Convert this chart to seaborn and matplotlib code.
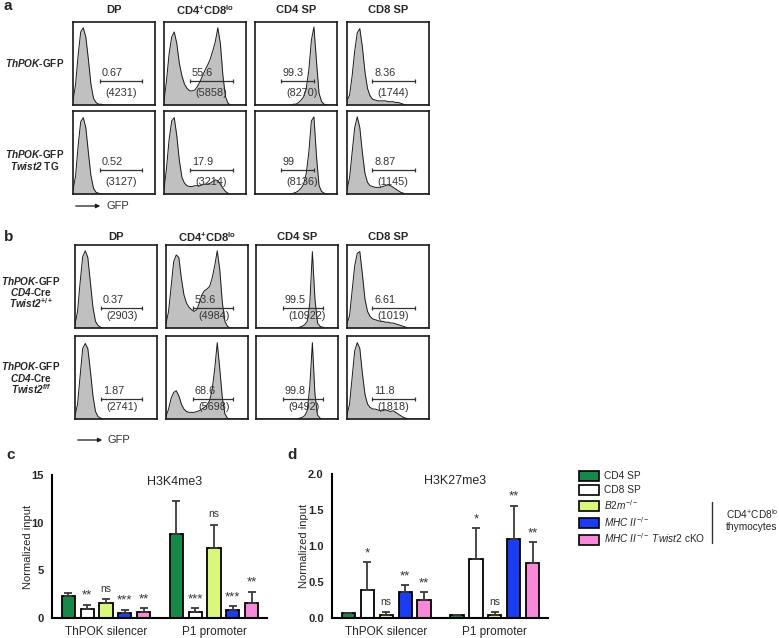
import numpy as np
import pandas as pd
import matplotlib
matplotlib.use("Agg")
import matplotlib.pyplot as plt
from matplotlib.patches import Patch, FancyArrowPatch
from matplotlib.lines import Line2D
import seaborn as sb

sb.set_style("white")
plt.rcParams["font.family"] = ["Liberation Sans", "DejaVu Sans"]
plt.rcParams["mathtext.fontset"] = "custom"
plt.rcParams["mathtext.rm"] = "Liberation Sans"
plt.rcParams["mathtext.sf"] = "Liberation Sans"
plt.rcParams["mathtext.it"] = "Liberation Sans:italic"
plt.rcParams["mathtext.bf"] = "Liberation Sans:bold"
plt.rcParams["mathtext.bfit"] = "Liberation Sans:italic:bold"

# ---- flow histograms (GFP, relative counts on a 33-channel grid) ----
A1_DP = [0.05, 0.25, 0.60, 0.88, 0.93, 0.82, 0.55, 0.25, 0.08, 0.03, 0.01,
         0.01, 0.00, 0.00, 0.00, 0.00, 0.00, 0.00, 0.00, 0.00, 0.00, 0.00,
         0.00, 0.00, 0.00, 0.00, 0.00, 0.00, 0.00, 0.00, 0.00, 0.00, 0.00]
A1_LO = [0.05, 0.30, 0.62, 0.82, 0.88, 0.74, 0.50, 0.35, 0.25, 0.20, 0.17,
         0.17, 0.18, 0.22, 0.28, 0.35, 0.42, 0.48, 0.55, 0.65, 0.76, 0.93,
         0.74, 0.35, 0.10, 0.02, 0.00, 0.00, 0.00, 0.00, 0.00, 0.00, 0.00]
A1_CD4 = [0.00, 0.00, 0.00, 0.00, 0.00, 0.00, 0.00, 0.00, 0.00, 0.00, 0.00,
          0.00, 0.00, 0.00, 0.00, 0.01, 0.01, 0.03, 0.06, 0.10, 0.20, 0.42,
          0.78, 0.94, 0.52, 0.14, 0.04, 0.01, 0.00, 0.00, 0.00, 0.00, 0.00]
A1_CD8 = [0.05, 0.12, 0.35, 0.65, 0.87, 0.92, 0.70, 0.40, 0.20, 0.11, 0.07,
          0.06, 0.05, 0.05, 0.05, 0.05, 0.04, 0.04, 0.04, 0.03, 0.03, 0.02,
          0.01, 0.00, 0.00, 0.00, 0.00, 0.00, 0.00, 0.00, 0.00, 0.00, 0.00]

A2_DP = [0.04, 0.22, 0.58, 0.87, 0.92, 0.80, 0.50, 0.22, 0.07, 0.02, 0.01,
         0.00, 0.00, 0.00, 0.00, 0.00, 0.00, 0.00, 0.00, 0.00, 0.00, 0.00,
         0.00, 0.00, 0.00, 0.00, 0.00, 0.00, 0.00, 0.00, 0.00, 0.00, 0.00]
A2_LO = [0.05, 0.32, 0.66, 0.88, 0.92, 0.70, 0.40, 0.20, 0.13, 0.10, 0.09,
         0.09, 0.10, 0.10, 0.10, 0.11, 0.12, 0.12, 0.13, 0.15, 0.17, 0.16,
         0.12, 0.07, 0.03, 0.01, 0.00, 0.00, 0.00, 0.00, 0.00, 0.00, 0.00]
A2_CD4 = [0.00, 0.00, 0.00, 0.00, 0.00, 0.00, 0.00, 0.00, 0.00, 0.00, 0.00,
          0.00, 0.00, 0.00, 0.00, 0.01, 0.02, 0.04, 0.07, 0.12, 0.25, 0.50,
          0.88, 0.93, 0.45, 0.10, 0.03, 0.01, 0.00, 0.00, 0.00, 0.00, 0.00]
A2_CD8 = [0.05, 0.20, 0.50, 0.80, 0.93, 0.80, 0.50, 0.25, 0.14, 0.10, 0.09,
          0.08, 0.08, 0.08, 0.09, 0.10, 0.11, 0.10, 0.08, 0.06, 0.04, 0.02,
          0.01, 0.00, 0.00, 0.00, 0.00, 0.00, 0.00, 0.00, 0.00, 0.00, 0.00]

B1_DP = [0.04, 0.20, 0.55, 0.86, 0.93, 0.85, 0.55, 0.25, 0.08, 0.03, 0.01,
         0.00, 0.00, 0.00, 0.00, 0.00, 0.00, 0.00, 0.00, 0.00, 0.00, 0.00,
         0.00, 0.00, 0.00, 0.00, 0.00, 0.00, 0.00, 0.00, 0.00, 0.00, 0.00]
B1_LO = [0.05, 0.20, 0.50, 0.80, 0.88, 0.85, 0.60, 0.40, 0.30, 0.25, 0.22,
         0.20, 0.22, 0.30, 0.40, 0.45, 0.47, 0.50, 0.60, 0.75, 0.93, 0.70,
         0.30, 0.08, 0.02, 0.00, 0.00, 0.00, 0.00, 0.00, 0.00, 0.00, 0.00]
B1_CD4 = [0.00, 0.00, 0.00, 0.00, 0.00, 0.00, 0.00, 0.00, 0.00, 0.00, 0.00,
          0.00, 0.00, 0.00, 0.00, 0.00, 0.00, 0.01, 0.02, 0.04, 0.08, 0.30,
          0.92, 0.35, 0.06, 0.02, 0.01, 0.00, 0.00, 0.00, 0.00, 0.00, 0.00]
B1_CD8 = [0.05, 0.15, 0.45, 0.75, 0.90, 0.92, 0.65, 0.35, 0.20, 0.14, 0.11,
          0.10, 0.09, 0.08, 0.08, 0.07, 0.07, 0.06, 0.06, 0.05, 0.04, 0.03,
          0.02, 0.01, 0.00, 0.00, 0.00, 0.00, 0.00, 0.00, 0.00, 0.00, 0.00]

B2_DP = [0.04, 0.18, 0.52, 0.85, 0.91, 0.85, 0.58, 0.28, 0.09, 0.03, 0.01,
         0.00, 0.00, 0.00, 0.00, 0.00, 0.00, 0.00, 0.00, 0.00, 0.00, 0.00,
         0.00, 0.00, 0.00, 0.00, 0.00, 0.00, 0.00, 0.00, 0.00, 0.00, 0.00]
B2_LO = [0.03, 0.12, 0.25, 0.32, 0.34, 0.28, 0.18, 0.12, 0.09, 0.08, 0.08,
         0.08, 0.09, 0.10, 0.12, 0.14, 0.17, 0.22, 0.35, 0.60, 0.92, 0.60,
         0.25, 0.06, 0.01, 0.00, 0.00, 0.00, 0.00, 0.00, 0.00, 0.00, 0.00]
B2_CD4 = [0.00, 0.00, 0.00, 0.00, 0.00, 0.00, 0.00, 0.00, 0.00, 0.00, 0.00,
          0.00, 0.00, 0.00, 0.00, 0.00, 0.00, 0.01, 0.02, 0.04, 0.10, 0.40,
          0.92, 0.30, 0.05, 0.01, 0.00, 0.00, 0.00, 0.00, 0.00, 0.00, 0.00]
B2_CD8 = [0.05, 0.18, 0.50, 0.82, 0.92, 0.85, 0.55, 0.30, 0.18, 0.14, 0.12,
          0.12, 0.11, 0.10, 0.10, 0.11, 0.10, 0.09, 0.10, 0.08, 0.06, 0.04,
          0.02, 0.01, 0.00, 0.00, 0.00, 0.00, 0.00, 0.00, 0.00, 0.00, 0.00]

# gate percentages and event counts
a1_pct = ["0.67", "55.6", "99.3", "8.36"]
a1_cnt = ["(4231)", "(5858)", "(8270)", "(1744)"]
a2_pct = ["0.52", "17.9", "99", "8.87"]
a2_cnt = ["(3127)", "(3214)", "(8136)", "(1145)"]
b1_pct = ["0.37", "53.6", "99.5", "6.61"]
b1_cnt = ["(2903)", "(4984)", "(10922)", "(1019)"]
b2_pct = ["1.87", "68.6", "99.8", "11.8"]
b2_cnt = ["(2741)", "(5698)", "(9492)", "(1818)"]

col_titles = ["DP", r"$\mathbf{CD4^{+}CD8^{lo}}$", "CD4 SP", "CD8 SP"]
a_rows = [[r"$\mathbfit{ThPOK}$-GFP"],
          [r"$\mathbfit{ThPOK}$-GFP", r"$\mathbfit{Twist2}$ TG"]]
b_rows = [[r"$\mathbfit{ThPOK}$-GFP", r"$\mathbfit{CD4}$-Cre", r"$\mathbfit{Twist2}^{\mathbf{+/+}}$"],
          [r"$\mathbfit{ThPOK}$-GFP", r"$\mathbfit{CD4}$-Cre", r"$\mathbfit{Twist2}^{\mathbfit{f/f}}$"]]

# ---- ChIP-qPCR ----
regions = ["ThPOK silencer", "P1 promoter"]
cell_types = ["CD4 SP", "CD8 SP", "B2m-/-", "MHC II-/-", "MHC II-/- Twist2 cKO"]
legend_labels = ["CD4 SP", "CD8 SP", r"$\mathit{B2m}^{-/-}$", r"$\mathit{MHC\ II}^{-/-}$",
                 r"$\mathit{MHC\ II}^{-/-}\ \mathit{Twist2}$ cKO"]
bar_colors = ["#16884a", "#ffffff", "#d9f77c", "#1a3cf2", "#f78ad8"]

k4_silencer = [2.31, 0.91, 1.61, 0.52, 0.63]
k4_silencer_err = [0.31, 0.49, 0.35, 0.35, 0.42]
k4_silencer_sig = ["", "**", "ns", "***", "**"]
k4_promoter = [8.82, 0.59, 7.32, 0.80, 1.61]
k4_promoter_err = [3.46, 0.46, 2.45, 0.46, 1.15]
k4_promoter_sig = ["", "***", "ns", "***", "**"]

k27_silencer = [0.065, 0.39, 0.046, 0.366, 0.255]
k27_silencer_err = [0.005, 0.39, 0.034, 0.094, 0.10]
k27_silencer_sig = ["", "*", "ns", "**", "**"]
k27_promoter = [0.037, 0.82, 0.046, 1.10, 0.76]
k27_promoter_err = [0.005, 0.425, 0.034, 0.46, 0.29]
k27_promoter_sig = ["", "*", "ns", "**", "**"]

W, H = 779, 638
fig = plt.figure(figsize=(W / 100, H / 100), dpi=100)


def px_axes(left, top, width, height):
    return fig.add_axes([left / W, 1 - (top + height) / H, width / W, height / H])


def ftext(x, y, s, **kw):
    fig.text(x / W, 1 - y / H, s, **kw)


def draw_hist(ax, heights, pct, cnt, gate, gate_y):
    chan = np.arange(len(heights))
    ax.fill_between(chan, heights, color="#c0c0c0", lw=0)
    ax.plot(chan, heights, color="#1a1a1a", lw=0.7)
    ax.set_xlim(0, len(heights) - 1)
    ax.set_ylim(0, 1)
    ax.set_xticks([])
    ax.set_yticks([])
    for s in ax.spines.values():
        s.set_visible(True)
        s.set_linewidth(1.2)
        s.set_color("#1a1a1a")
    x0, x1 = gate
    ax.plot([x0, x1], [gate_y, gate_y], transform=ax.transAxes, color="#333333",
            lw=0.9, marker="|", ms=3, mew=0.9)
    ax.text(x0 + 0.02, gate_y + 0.1, pct, transform=ax.transAxes, fontsize=7.8,
            color="#333333", va="center", ha="left")
    ax.text(x0 + 0.06, 0.145, cnt, transform=ax.transAxes, fontsize=7.8,
            color="#333333", va="center", ha="left")


def flow_panel(letter, letter_y, title_y, lefts, tops, hists, pcts, cnts, row_labels,
               label_x, label_y, gates, gate_y, arrow_y):
    ftext(4, letter_y, letter, fontsize=11, fontweight="bold", va="center")
    for c, l in enumerate(lefts):
        ftext(l + 41, title_y, col_titles[c], fontsize=8, fontweight="bold",
              ha="center", va="center")
    for r, t in enumerate(tops):
        for c, l in enumerate(lefts):
            ax = px_axes(l, t, 82, 83)
            draw_hist(ax, hists[r][c], pcts[r][c], cnts[r][c], gates[c], gate_y)
        lines = row_labels[r]
        n = len(lines)
        for k, s in enumerate(lines):
            ftext(label_x, label_y[r] + (k - (n - 1) / 2) * 11.5, s, fontsize=7.2,
                  fontweight="bold", ha="center", va="center")
    fig.add_artist(FancyArrowPatch((lefts[0] / W, 1 - arrow_y / H),
                                   ((lefts[0] + 30) / W, 1 - arrow_y / H),
                                   transform=fig.transFigure, arrowstyle="-|>",
                                   mutation_scale=6, color="#1a1a1a", lw=0.9))
    ftext(lefts[0] + 33, arrow_y, "GFP", fontsize=8, color="#333333", va="center")


flow_panel("a", 6, 10, [73, 164, 255, 347], [22, 111],
           [[A1_DP, A1_LO, A1_CD4, A1_CD8], [A2_DP, A2_LO, A2_CD4, A2_CD8]],
           [a1_pct, a2_pct], [a1_cnt, a2_cnt], a_rows, 35, [63, 160],
           [(0.33, 0.84), (0.32, 0.84), (0.32, 0.72), (0.31, 0.83)], 0.29, 206)
flow_panel("b", 237, 237, [75, 166, 256, 347], [245, 336],
           [[B1_DP, B1_LO, B1_CD4, B1_CD8], [B2_DP, B2_LO, B2_CD4, B2_CD8]],
           [b1_pct, b2_pct], [b1_cnt, b2_cnt], b_rows, 31, [292, 378],
           [(0.32, 0.82), (0.33, 0.82), (0.33, 0.82), (0.31, 0.83)], 0.24, 440)


def draw_bars(ax, sil, sil_err, sil_sig, pro, pro_err, pro_sig, ymax, yticks, ylabels, title):
    df = pd.DataFrame({
        "region": [regions[0]] * 5 + [regions[1]] * 5,
        "cell": cell_types * 2,
        "value": sil + pro,
    })
    sb.barplot(data=df, x="region", y="value", hue="cell", order=regions,
               hue_order=cell_types, palette=bar_colors, saturation=1, width=0.87,
               gap=0.3, edgecolor="black", linewidth=1.3, errorbar=None,
               legend=False, ax=ax)
    errs = [sil_err, pro_err]
    sigs = [sil_sig, pro_sig]
    bar_groups = list(ax.containers)
    for k, cont in enumerate(bar_groups):
        for j, bar in enumerate(cont):
            xc = bar.get_x() + bar.get_width() / 2
            top = bar.get_height()
            e = errs[j][k]
            ax.errorbar(xc, top, yerr=[[0], [e]], color="#3a3a3a", lw=1.3,
                        capsize=3, capthick=1.3, zorder=1)
            s = sigs[j][k]
            if s == "ns":
                ax.annotate(s, (xc, top + e), xytext=(0, 4),
                            textcoords="offset points", ha="center", va="bottom",
                            fontsize=7.5, color="#333333")
            elif s:
                ax.annotate(s, (xc, top + e), xytext=(0, 2),
                            textcoords="offset points", ha="center", va="bottom",
                            fontsize=9.5, color="#333333")
    ax.set_xlim(-0.5, 1.49)
    ax.set_ylim(0, ymax)
    ax.set_yticks(yticks)
    ax.set_yticklabels(ylabels, fontweight="bold", fontsize=8)
    ax.set_xlabel("")
    ax.set_ylabel("Normalized input", fontsize=8, labelpad=-1)
    ax.tick_params(axis="x", labelsize=8.5, length=4, width=1.5, direction="out", pad=2)
    ax.tick_params(axis="y", length=4, width=1.5, direction="out", pad=2)
    for s in ["top", "right"]:
        ax.spines[s].set_visible(False)
    for s in ["left", "bottom"]:
        ax.spines[s].set_linewidth(1.5)
        ax.spines[s].set_color("black")
    ax.text(0.57, 0.95, title, transform=ax.transAxes, fontsize=9, ha="center", va="center")


ftext(6, 455, "c", fontsize=11, fontweight="bold", va="center")
ax_c = px_axes(52, 475, 215, 143)
draw_bars(ax_c, k4_silencer, k4_silencer_err, k4_silencer_sig,
          k4_promoter, k4_promoter_err, k4_promoter_sig,
          15, [0, 5, 10, 15], ["0", "5", "10", "15"], "H3K4me3")

ftext(287, 455, "d", fontsize=11, fontweight="bold", va="center")
ax_d = px_axes(332, 474, 216, 144)
draw_bars(ax_d, k27_silencer, k27_silencer_err, k27_silencer_sig,
          k27_promoter, k27_promoter_err, k27_promoter_sig,
          2.0, [0, 0.5, 1.0, 1.5, 2.0], ["0.0", "0.5", "1.0", "1.5", "2.0"], "H3K27me3")

# legend
handles = [Patch(facecolor=c, edgecolor="black", linewidth=1.2) for c in bar_colors]
fig.legend(handles, legend_labels, loc="upper left", bbox_to_anchor=(579 / W, 1 - 471 / H),
           frameon=False, fontsize=7.3, handlelength=2.0, handleheight=1.15,
           handletextpad=0.45, labelspacing=0.3, borderpad=0, borderaxespad=0)
fig.add_artist(Line2D([712 / W, 712 / W], [1 - 502 / H, 1 - 543 / H],
                      transform=fig.transFigure, color="#333333", lw=1.0))
ftext(752, 514, r"CD4$^{+}$CD8$^{\mathrm{lo}}$", fontsize=7.3, ha="center", va="center")
ftext(752, 527, "thymocytes", fontsize=7.3, ha="center", va="center")

fig.savefig("out.png", dpi=100)
